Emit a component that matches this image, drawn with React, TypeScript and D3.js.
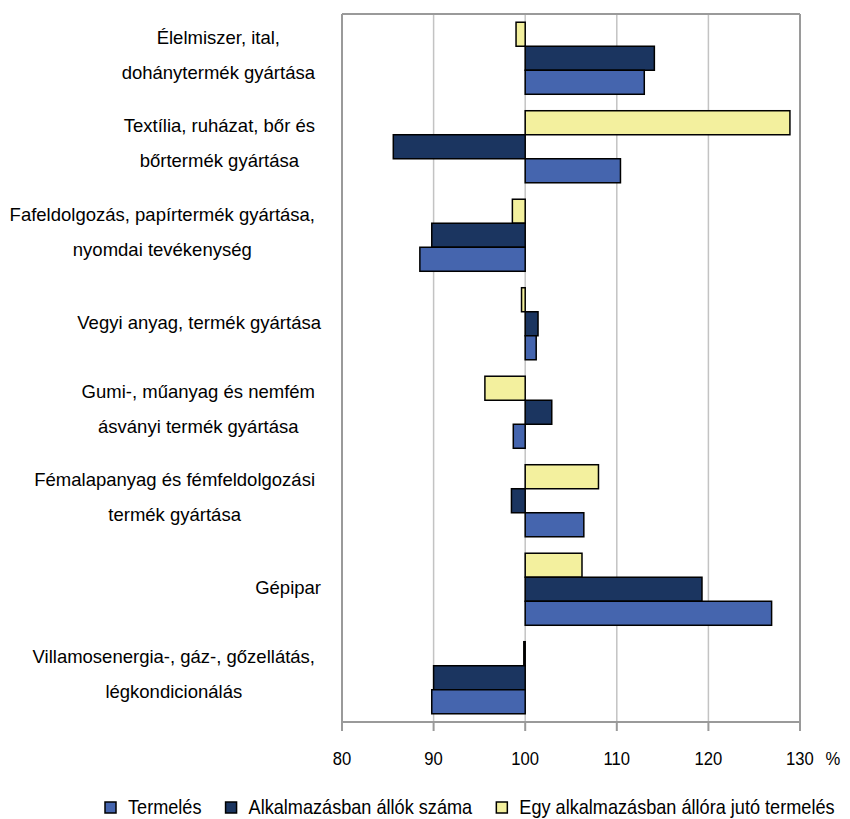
import React from "react";
import * as d3 from "d3";

const categories: string[][] = [
  ["Élelmiszer, ital,", "dohánytermék gyártása"],
  ["Textília, ruházat, bőr és", "bőrtermék gyártása"],
  ["Fafeldolgozás, papírtermék gyártása,", "nyomdai tevékenység"],
  ["Vegyi anyag, termék gyártása"],
  ["Gumi-, műanyag és nemfém", "ásványi termék gyártása"],
  ["Fémalapanyag és fémfeldolgozási", "termék gyártása"],
  ["Gépipar"],
  ["Villamosenergia-, gáz-, gőzellátás,", "légkondicionálás"],
];

const seriesNames = ["Termelés", "Alkalmazásban állók száma", "Egy alkalmazásban állóra jutó termelés"];
const termeles = [113.0, 110.4, 88.5, 101.2, 98.7, 106.4, 126.9, 89.8];
const alkalmazottak = [114.1, 85.6, 89.8, 101.4, 102.9, 98.5, 119.3, 90.0];
const egyreJuto = [99.0, 128.9, 98.6, 99.6, 95.6, 108.0, 106.2, 99.85];
const xTicks = [80, 90, 100, 110, 120, 130];
const colors = ["#4565AE", "#1B3560", "#F3F09E"];

const W = 850;
const H = 819;
const M = { left: 342, right: 800, top: 14, bottom: 722 };
const FONT = "'Liberation Sans', Arial, sans-serif";
const FS = 18.5;
const LFS = 19.5;
const LSX = 0.93;

let ctx: CanvasRenderingContext2D | null = null;
function measure(t: string, fs: number = FS): number {
  if (!ctx) {
    const c = document.createElement("canvas");
    ctx = c.getContext("2d");
  }
  if (!ctx) return t.length * fs * 0.5;
  ctx.font = `${fs}px ${FONT}`;
  return ctx.measureText(t).width;
}

export default function App() {
  const x = d3.scaleLinear().domain([80, 130]).range([M.left, M.right]);
  const idx = categories.map((_, i) => i);
  const y = d3
    .scaleBand<number>()
    .domain(idx)
    .range([M.top, M.bottom])
    .paddingInner(0.186)
    .paddingOuter(0.093);
  const seriesOrder = [2, 1, 0];
  const yInner = d3.scaleBand<number>().domain(seriesOrder).range([0, y.bandwidth()]);
  const data = [termeles, alkalmazottak, egyreJuto];

  return (
    <svg
      width={W}
      height={H}
      style={{ position: "absolute", left: 0, top: 0, background: "#fff" }}
      fontFamily={FONT}
    >
      {xTicks.slice(1, -1).map((t) => (
        <line key={"g" + t} x1={x(t)} x2={x(t)} y1={M.top} y2={M.bottom} stroke="#C3C3C3" strokeWidth={1.5} />
      ))}
      <line x1={M.left} x2={M.right} y1={M.top} y2={M.top} stroke="#9A9A9A" strokeWidth={2} />
      <line x1={M.left} x2={M.left} y1={M.top} y2={M.bottom} stroke="#9A9A9A" strokeWidth={2} />
      <line x1={M.right} x2={M.right} y1={M.top} y2={M.bottom} stroke="#9A9A9A" strokeWidth={2} />
      <line x1={M.left} x2={M.right} y1={M.bottom} y2={M.bottom} stroke="#9A9A9A" strokeWidth={2} />
      {xTicks.map((t) => (
        <line key={"t" + t} x1={x(t)} x2={x(t)} y1={M.bottom} y2={M.bottom + 9} stroke="#9A9A9A" strokeWidth={2} />
      ))}
      {idx.map((ci) =>
        seriesOrder.map((si) => {
          const v = data[si][ci];
          const x0 = x(Math.min(100, v));
          const x1 = x(Math.max(100, v));
          return (
            <rect
              key={ci + "-" + si}
              x={x0}
              y={(y(ci) as number) + (yInner(si) as number)}
              width={Math.max(x1 - x0, 0.5)}
              height={yInner.bandwidth()}
              fill={colors[si]}
              stroke="#000"
              strokeWidth={1.5}
            />
          );
        })
      )}
      {xTicks.map((t) => (
        <text
          key={"l" + t}
          transform={`translate(${x(t)},765) scale(0.9,1)`}
          textAnchor="middle"
          fontSize={FS}
          fill="#000"
        >
          {t}
        </text>
      ))}
      <text transform={`translate(${x(130) + 33},765) scale(0.9,1)`} textAnchor="middle" fontSize={FS} fill="#000">
        %
      </text>
      {categories.map((lines, ci) => {
        const cy = (y(ci) as number) + y.bandwidth() / 2;
        const maxW = Math.max(...lines.map((l) => measure(l)));
        const right = lines.length > 1 ? 315 : 321;
        const cx = right - maxW / 2;
        const lh = 35;
        const off = lines.length > 1 ? -3.5 : -1.5;
        const y0 = cy + off - ((lines.length - 1) * lh) / 2;
        return (
          <g key={"c" + ci}>
            {lines.map((ln, li) => (
              <text
                key={li}
                x={cx}
                y={y0 + li * lh}
                textAnchor="middle"
                dominantBaseline="central"
                fontSize={FS}
                fill="#000"
              >
                {ln}
              </text>
            ))}
          </g>
        );
      })}
      {(() => {
        const items = [0, 1, 2];
        let cur = 105;
        const out: any[] = [];
        items.forEach((si) => {
          out.push(
            <rect key={"lr" + si} x={cur} y={802} width={11} height={11} fill={colors[si]} stroke="#000" strokeWidth={1.5} />
          );
          out.push(
            <text
              key={"lt" + si}
              transform={`translate(${cur + 23},813.5) scale(${LSX},1)`}
              fontSize={LFS}
              fill="#000"
            >
              {seriesNames[si]}
            </text>
          );
          cur += 23 + measure(seriesNames[si], LFS) * LSX + 24;
        });
        return out;
      })()}
    </svg>
  );
}
